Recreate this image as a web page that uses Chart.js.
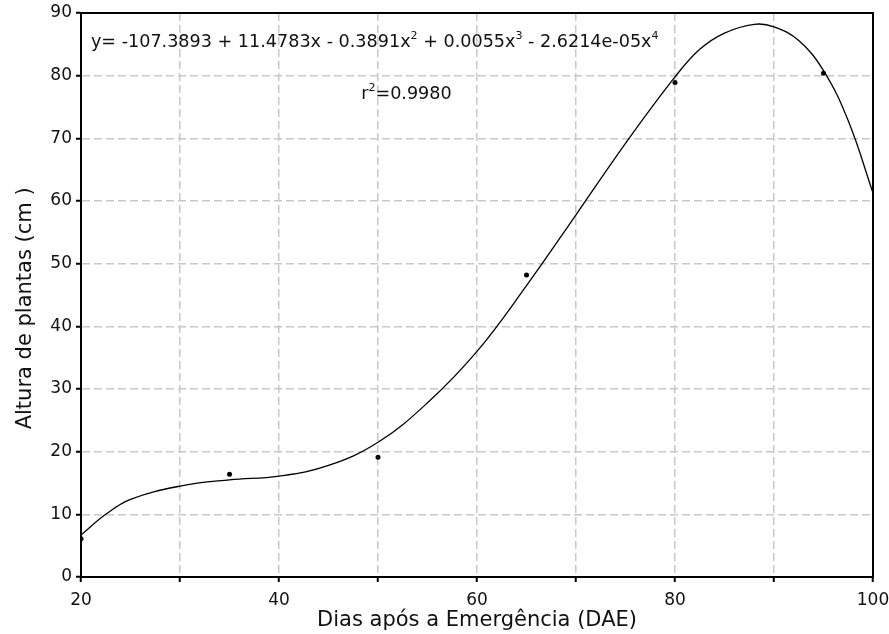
<!DOCTYPE html>
<html>
<head>
<meta charset="utf-8">
<script src="https://cdn.jsdelivr.net/npm/chart.js@4.4.0/dist/chart.umd.min.js"></script>
<style>
    html, body { margin: 0; padding: 0; background: #fff; }
    #wrap { width: 889px; height: 634px; }
</style>
</head>
<body>
<div id="wrap"><canvas id="growthChart" width="889" height="634"></canvas></div>
<script>
// Observed plant heights (cm) by days after emergence
const obsDays = [20, 35, 50, 65, 80, 95];
const obsHeight = [6.1, 16.4, 19.1, 48.2, 78.9, 80.4];

// Fitted curve
const fitDays = [20, 22.5, 25, 30, 35, 40, 45, 50, 55, 60, 65, 70, 75, 80, 82.5, 85, 88, 90, 92.5, 95, 97.5, 100];
const fitHeight = [6.7, 10.0, 12.4, 14.5, 15.5, 16.1, 17.8, 21.5, 27.8, 36.0, 46.5, 57.8, 69.2, 79.8, 84.2, 86.8, 88.2, 87.8, 85.6, 80.8, 72.8, 61.3];

// Axis labels
const xTickLabels = [20, 40, 60, 80, 100];
const xTitle = 'Dias após a Emergência (DAE)';
const yTitle = 'Altura de plantas (cm )\u00a0\u00a0\u00a0\u00a0';

// Regression text: [text, isSuperscript]
const equationParts = [
    ['y= -107.3893 + 11.4783x - 0.3891x', false], ['2', true],
    [' + 0.0055x', false], ['3', true],
    [' - 2.6214e-05x', false], ['4', true]
];
const r2Parts = [['r', false], ['2', true], ['=0.9980', false]];

const FONT = '"DejaVu Sans", "Liberation Sans", Arial, sans-serif';

function drawRich(ctx, parts, x, y, size) {
    let cx = x;
    parts.forEach(([txt, sup]) => {
        const fs = sup ? Math.round(size * 0.65) : size;
        ctx.font = `${fs}px ${FONT}`;
        ctx.fillText(txt, cx, sup ? y - size * 0.38 : y);
        cx += ctx.measureText(txt).width;
    });
}

// box around plot + equation notes
const frameAndNotes = {
    id: 'frameAndNotes',
    afterDatasetsDraw(chart) {
        const { ctx, chartArea: a, scales } = chart;
        ctx.save();
        ctx.strokeStyle = '#000';
        ctx.lineWidth = 2;
        ctx.strokeRect(a.left, a.top, a.right - a.left, a.bottom - a.top);

        ctx.fillStyle = '#111';
        ctx.textBaseline = 'middle';
        ctx.textAlign = 'left';
        drawRich(ctx, equationParts, scales.x.getPixelForValue(21), scales.y.getPixelForValue(85.3), 17.6);
        drawRich(ctx, r2Parts, scales.x.getPixelForValue(48.3), scales.y.getPixelForValue(77), 17.6);
        ctx.restore();
    }
};

const ctx = document.getElementById('growthChart').getContext('2d');
new Chart(ctx, {
    type: 'scatter',
    data: {
        datasets: [
            {
                type: 'line',
                label: 'Ajuste',
                data: fitDays.map((d, i) => ({ x: d, y: fitHeight[i] })),
                borderColor: '#000',
                borderWidth: 1.3,
                pointRadius: 0,
                fill: false,
                tension: 0.4
            },
            {
                label: 'Observado',
                data: obsDays.map((d, i) => ({ x: d, y: obsHeight[i] })),
                backgroundColor: '#000',
                borderColor: '#000',
                pointRadius: 2.5,
                pointBorderWidth: 0
            }
        ]
    },
    options: {
        responsive: false,
        animation: false,
        devicePixelRatio: 1,
        layout: { padding: { top: 13, right: 16, left: 0, bottom: 0 } },
        plugins: {
            legend: { display: false },
            tooltip: { enabled: false }
        },
        scales: {
            x: {
                type: 'linear',
                min: 20,
                max: 100,
                afterFit(scale) {
                    scale.height = 57;
                    scale.paddingLeft = 0;
                    scale.paddingRight = 0;
                },
                ticks: {
                    stepSize: 10,
                    color: '#111',
                    padding: 8,
                    maxRotation: 0,
                    font: { family: FONT, size: 17 },
                    callback: v => xTickLabels.includes(v) ? String(v) : ''
                },
                grid: { color: '#c8c8c8', lineWidth: 1.5, tickLength: 5, tickColor: '#000', tickWidth: 2 },
                border: { color: '#000', width: 2, dash: [8, 4] },
                title: {
                    display: true,
                    text: xTitle,
                    color: '#111',
                    font: { family: FONT, size: 21 },
                    padding: { top: 0, bottom: 1 }
                }
            },
            y: {
                min: 0,
                max: 90,
                afterFit(scale) {
                    scale.width = 81;
                    scale.paddingTop = 0;
                    scale.paddingBottom = 0;
                },
                ticks: {
                    stepSize: 10,
                    color: '#111',
                    padding: 4,
                    font: { family: FONT, size: 17 }
                },
                grid: { color: '#c8c8c8', lineWidth: 1.5, tickLength: 5, tickColor: '#000', tickWidth: 2 },
                border: { color: '#000', width: 2, dash: [8, 4] },
                title: {
                    display: true,
                    text: yTitle,
                    color: '#111',
                    font: { family: FONT, size: 21 },
                    padding: { top: 13, bottom: 0 }
                }
            }
        }
    },
    plugins: [frameAndNotes]
});
</script>
</body>
</html>
